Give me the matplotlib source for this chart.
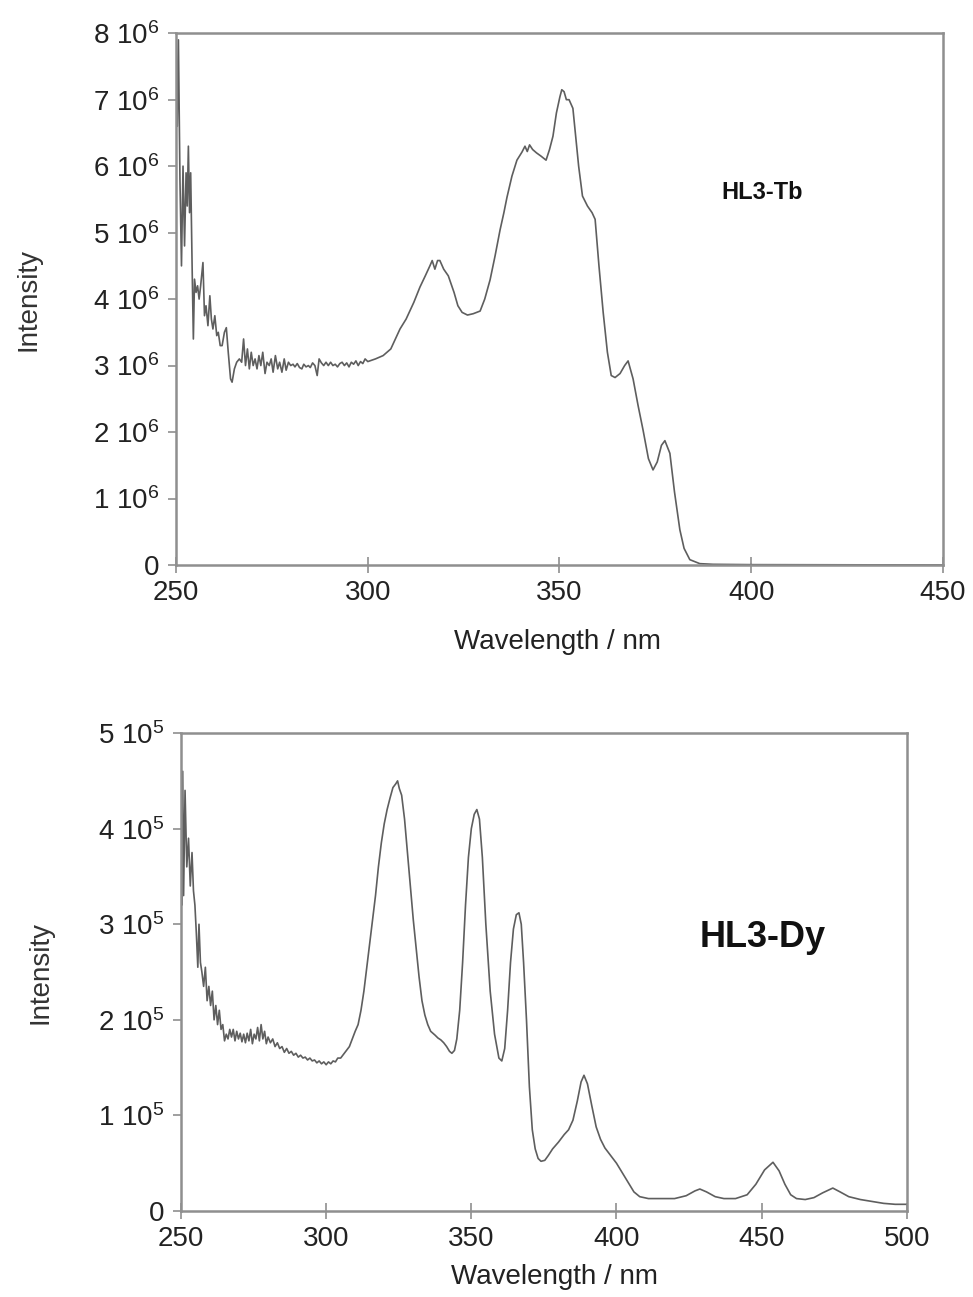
import matplotlib
matplotlib.use('Agg')
import matplotlib.pyplot as plt
from matplotlib.ticker import FuncFormatter

plt.rcParams['font.family'] = ['Liberation Sans', 'DejaVu Sans']
plt.rcParams['mathtext.fontset'] = 'custom'
plt.rcParams['mathtext.rm'] = 'Liberation Sans'
plt.rcParams['mathtext.default'] = 'regular'

# HL3-Tb excitation spectrum (intensity in units of 1e6)
tb_wl = [250.0, 250.3, 250.6, 251.0, 251.4, 251.8, 252.2, 252.6, 252.9, 253.2, 253.5, 253.8,
         254.2, 254.5, 254.8, 255.2, 255.6, 256.0, 256.4, 257.0, 257.4, 257.8, 258.3, 258.8,
         259.2, 259.6, 260.1, 260.6, 261.0, 261.5, 262.0, 262.6, 263.1, 263.6, 264.2, 264.6,
         265.2, 265.8, 266.5, 267.1, 267.6, 268.1, 268.6, 269.1, 269.6, 270.1, 270.6, 271.1,
         271.6, 272.1, 272.6, 273.2, 273.7, 274.3, 274.8, 275.3, 275.9, 276.5, 277.0, 277.6,
         278.2, 278.7, 279.3, 279.9, 280.5, 281.0, 281.6, 282.2, 282.8, 283.3, 283.9, 284.5,
         285.0, 285.6, 286.2, 286.8, 287.3, 287.9, 288.5, 289.1, 289.7, 290.3, 290.9, 291.5,
         292.1, 292.7, 293.3, 293.9, 294.5, 295.1, 295.7, 296.3, 296.9, 297.5, 298.1, 298.7,
         299.3, 300.0, 302.0, 304.0, 306.0, 308.4, 310.0, 312.0, 313.6, 315.0, 316.2, 316.8,
         317.5, 318.2, 318.8, 319.8, 321.0, 322.5, 323.5, 324.6, 326.0, 327.5, 329.3, 330.5,
         331.9, 333.2, 334.5, 335.5, 336.3, 337.6, 338.9, 340.2, 341.0, 341.6, 342.2, 343.0,
         344.0, 345.2, 346.5, 347.4, 348.3, 349.2, 350.1, 350.6, 351.2, 351.8, 352.5, 353.5,
         355.0, 356.0, 357.3, 358.5, 359.3, 360.3, 361.4, 362.5, 363.5, 364.5, 365.8, 367.0,
         367.9, 369.2, 370.5, 371.8, 373.2, 374.4, 375.5, 376.6, 377.5, 378.8, 380.0, 381.4,
         382.5, 384.0, 386.6, 390.0, 400.0, 450.0]
tb_int = [8.0, 6.6, 7.9, 5.8, 4.5, 6.0, 4.8, 5.9, 5.4, 6.3, 5.3, 5.9,
          4.4, 3.4, 4.3, 4.1, 4.2, 4.0, 4.2, 4.55, 3.75, 3.9, 3.6, 4.05,
          3.7, 3.55, 3.75, 3.45, 3.5, 3.3, 3.3, 3.5, 3.57, 3.2, 2.8, 2.75,
          2.95, 3.05, 3.1, 3.05, 3.4, 3.0, 3.25, 2.95, 3.2, 3.0, 3.1, 2.95,
          3.15, 3.0, 3.2, 2.88, 3.05, 3.0, 3.1, 2.9, 3.15, 2.95, 3.05, 2.9,
          3.1, 2.93, 3.05, 3.0, 3.02, 2.98, 3.03, 2.97, 2.95, 3.02, 2.98, 3.0,
          2.97, 3.04, 3.0, 2.85, 3.1, 3.04, 3.0, 3.05, 3.0, 3.05, 3.0, 3.02,
          2.98, 3.03, 3.05, 3.0, 3.04, 2.98, 3.05, 3.02, 3.07, 3.0, 3.06, 3.03,
          3.1, 3.06, 3.1, 3.15, 3.25, 3.55, 3.7, 3.95, 4.18, 4.35, 4.5, 4.58,
          4.45, 4.58, 4.58, 4.45, 4.35, 4.1, 3.9, 3.8, 3.76, 3.78, 3.82, 4.0,
          4.29, 4.65, 5.04, 5.3, 5.53, 5.85, 6.09, 6.21, 6.3, 6.22, 6.32, 6.25,
          6.2, 6.15, 6.09, 6.25, 6.45, 6.8, 7.04, 7.15, 7.12, 7.0, 7.0, 6.87,
          6.0, 5.55, 5.4, 5.3, 5.2, 4.5, 3.8, 3.2, 2.85, 2.82, 2.88, 3.0,
          3.07, 2.8, 2.4, 2.03, 1.6, 1.43, 1.55, 1.8, 1.87, 1.68, 1.1, 0.53,
          0.25, 0.08, 0.02, 0.01, 0.005, 0.0]

# HL3-Dy excitation spectrum (intensity in units of 1e5)
dy_wl = [250.0, 250.3, 250.6, 250.9, 251.4, 252.0, 252.6, 253.2, 253.8, 254.3, 254.8, 255.3,
         255.8, 256.2, 256.7, 257.2, 257.8, 258.4, 259.0, 259.6, 260.2, 260.8, 261.4, 262.0,
         262.6, 263.2, 263.8, 264.4, 265.0, 265.6, 266.2, 266.8, 267.4, 268.0, 268.6, 269.2,
         269.8, 270.4, 271.0, 271.6, 272.2, 272.8, 273.4, 274.0, 274.6, 275.2, 275.8, 276.4,
         277.0, 277.6, 278.2, 278.8, 279.4, 280.0, 280.8, 281.6, 282.4, 283.2, 284.0, 284.8,
         285.6, 286.4, 287.2, 288.0, 288.8, 289.6, 290.4, 291.2, 292.0, 292.8, 293.6, 294.4,
         295.2, 296.0, 296.8, 297.6, 298.4, 299.2, 300.0, 300.8, 301.6, 302.4, 303.2, 304.0,
         305.0, 306.0, 307.0, 308.0, 309.0, 310.0, 311.0, 312.0, 313.0, 314.0, 315.0, 316.0,
         317.0, 318.0, 319.0, 320.0, 321.0, 322.0, 323.0, 324.0, 324.6, 325.2, 326.0, 327.0,
         328.0, 329.0, 330.0, 331.0, 332.0, 333.0, 334.0, 335.0, 336.0, 337.5, 338.5, 339.5,
         340.5, 341.5, 342.5, 343.3, 344.2, 345.0, 346.0, 347.0, 348.0, 349.0, 350.0, 351.0,
         351.9, 352.8, 353.8, 355.0, 356.5, 358.0, 359.5, 360.5, 361.5, 362.5, 363.5, 364.5,
         365.5, 366.4, 367.2, 368.0, 369.0, 370.0, 371.0, 372.0, 373.0, 374.0, 375.3, 376.5,
         378.0, 380.0, 382.0, 383.5, 385.0, 386.5, 387.8, 388.8, 390.0, 391.5, 393.0, 394.5,
         396.0, 398.0, 400.0, 402.0, 404.0, 406.0, 408.0, 411.0, 415.0, 420.0, 424.0, 427.0,
         428.7, 431.0, 434.0, 437.0, 441.0, 445.0, 448.0, 451.0, 453.9, 456.0, 458.0, 460.0,
         462.0, 465.0, 468.0, 471.0, 474.5, 477.0, 480.0, 484.0, 488.0, 492.0, 496.0, 500.0]
dy_int = [5.0, 3.2, 4.6, 3.3, 4.4, 3.6, 3.9, 3.4, 3.75, 3.35, 3.2, 2.9,
          2.55, 3.0, 2.6, 2.5, 2.35, 2.55, 2.2, 2.35, 2.15, 2.3, 2.0, 2.15,
          1.95, 2.1, 1.9, 1.95, 1.78, 1.85, 1.8, 1.9, 1.82, 1.9, 1.78, 1.88,
          1.8, 1.86, 1.77, 1.85, 1.76, 1.86, 1.78, 1.9, 1.75, 1.85, 1.8, 1.92,
          1.78, 1.95, 1.8, 1.88, 1.75, 1.82, 1.76, 1.8, 1.72, 1.76, 1.7, 1.72,
          1.66, 1.7, 1.65, 1.67, 1.63, 1.65, 1.61, 1.63, 1.6, 1.61, 1.58, 1.6,
          1.57, 1.58, 1.55, 1.57, 1.54, 1.56, 1.53, 1.56, 1.54, 1.57, 1.56, 1.6,
          1.6, 1.64, 1.68, 1.72, 1.8, 1.88, 1.95, 2.1, 2.3, 2.55, 2.8, 3.05,
          3.3, 3.6, 3.85, 4.05, 4.2, 4.32, 4.43, 4.47, 4.5, 4.42, 4.35, 4.1,
          3.75, 3.4, 3.05, 2.75, 2.45, 2.2, 2.05, 1.95, 1.88, 1.84, 1.81, 1.79,
          1.76, 1.72, 1.67, 1.65, 1.68, 1.8, 2.1, 2.6, 3.2, 3.7, 4.0, 4.15,
          4.2, 4.1, 3.7, 3.0, 2.3, 1.85, 1.6, 1.57, 1.7, 2.1, 2.6, 2.95,
          3.1, 3.12, 3.0, 2.6, 2.0, 1.3, 0.85, 0.65, 0.55, 0.52, 0.53, 0.58,
          0.65, 0.72, 0.8, 0.85, 0.95, 1.15, 1.35, 1.42, 1.33, 1.1, 0.88, 0.75,
          0.66, 0.58, 0.5, 0.4, 0.3, 0.2, 0.15, 0.13, 0.13, 0.13, 0.16, 0.21,
          0.23, 0.2, 0.15, 0.13, 0.13, 0.17, 0.28, 0.43, 0.51, 0.42, 0.28, 0.17,
          0.13, 0.12, 0.14, 0.19, 0.24, 0.2, 0.15, 0.12, 0.1, 0.08, 0.07, 0.07]

tb_yticks = [0, 1, 2, 3, 4, 5, 6, 7, 8]
dy_yticks = [0, 1, 2, 3, 4, 5]
tb_xticks = [250, 300, 350, 400, 450]
dy_xticks = [250, 300, 350, 400, 450, 500]

line_col = '#5e5e5e'
spine_col = '#8f8f8f'
fs = 20

fig = plt.figure(figsize=(9.73, 12.97), dpi=100)
ax1 = fig.add_axes([0.181, 0.5644, 0.788, 0.410])
ax2 = fig.add_axes([0.186, 0.0663, 0.746, 0.3685])


def style(ax, exp):
    for s in ax.spines.values():
        s.set_color(spine_col)
        s.set_linewidth(1.8)
    ax.tick_params(axis='x', direction='inout', length=12, width=1.2, color=spine_col,
                   labelsize=fs, pad=5, labelcolor='#222222')
    ax.tick_params(axis='y', direction='out', length=6, width=1.2, color=spine_col,
                   labelsize=fs, pad=6, labelcolor='#222222')
    ax.yaxis.set_major_formatter(FuncFormatter(
        lambda v, p: '0' if v == 0 else '%d $10^{%d}$' % (round(v), exp)))
    ax.set_xlabel('Wavelength / nm', fontsize=fs, color='#222222')
    ax.set_ylabel('Intensity', fontsize=fs, color='#333333')
    ax.yaxis.set_label_coords(-0.175, 0.5)


ax1.plot(tb_wl, tb_int, color=line_col, lw=1.2)
ax1.set_xlim(250, 450)
ax1.set_ylim(0, 8)
ax1.set_xticks(tb_xticks)
ax1.set_yticks(tb_yticks)
style(ax1, 6)
ax1.xaxis.set_label_coords(0.497, -0.12)
ax1.text(0.764, 0.701, 'HL3-Tb', transform=ax1.transAxes, fontsize=17, fontweight='bold',
         ha='center', va='center', color='#111111')

ax2.plot(dy_wl, dy_int, color=line_col, lw=1.2)
ax2.set_xlim(250, 500)
ax2.set_ylim(0, 5)
ax2.set_xticks(dy_xticks)
ax2.set_yticks(dy_yticks)
style(ax2, 5)
ax2.xaxis.set_label_coords(0.515, -0.11)
ax2.text(0.802, 0.573, 'HL3-Dy', transform=ax2.transAxes, fontsize=26, fontweight='bold',
         ha='center', va='center', color='#111111')

fig.savefig('out.png', dpi=100, facecolor='white')
